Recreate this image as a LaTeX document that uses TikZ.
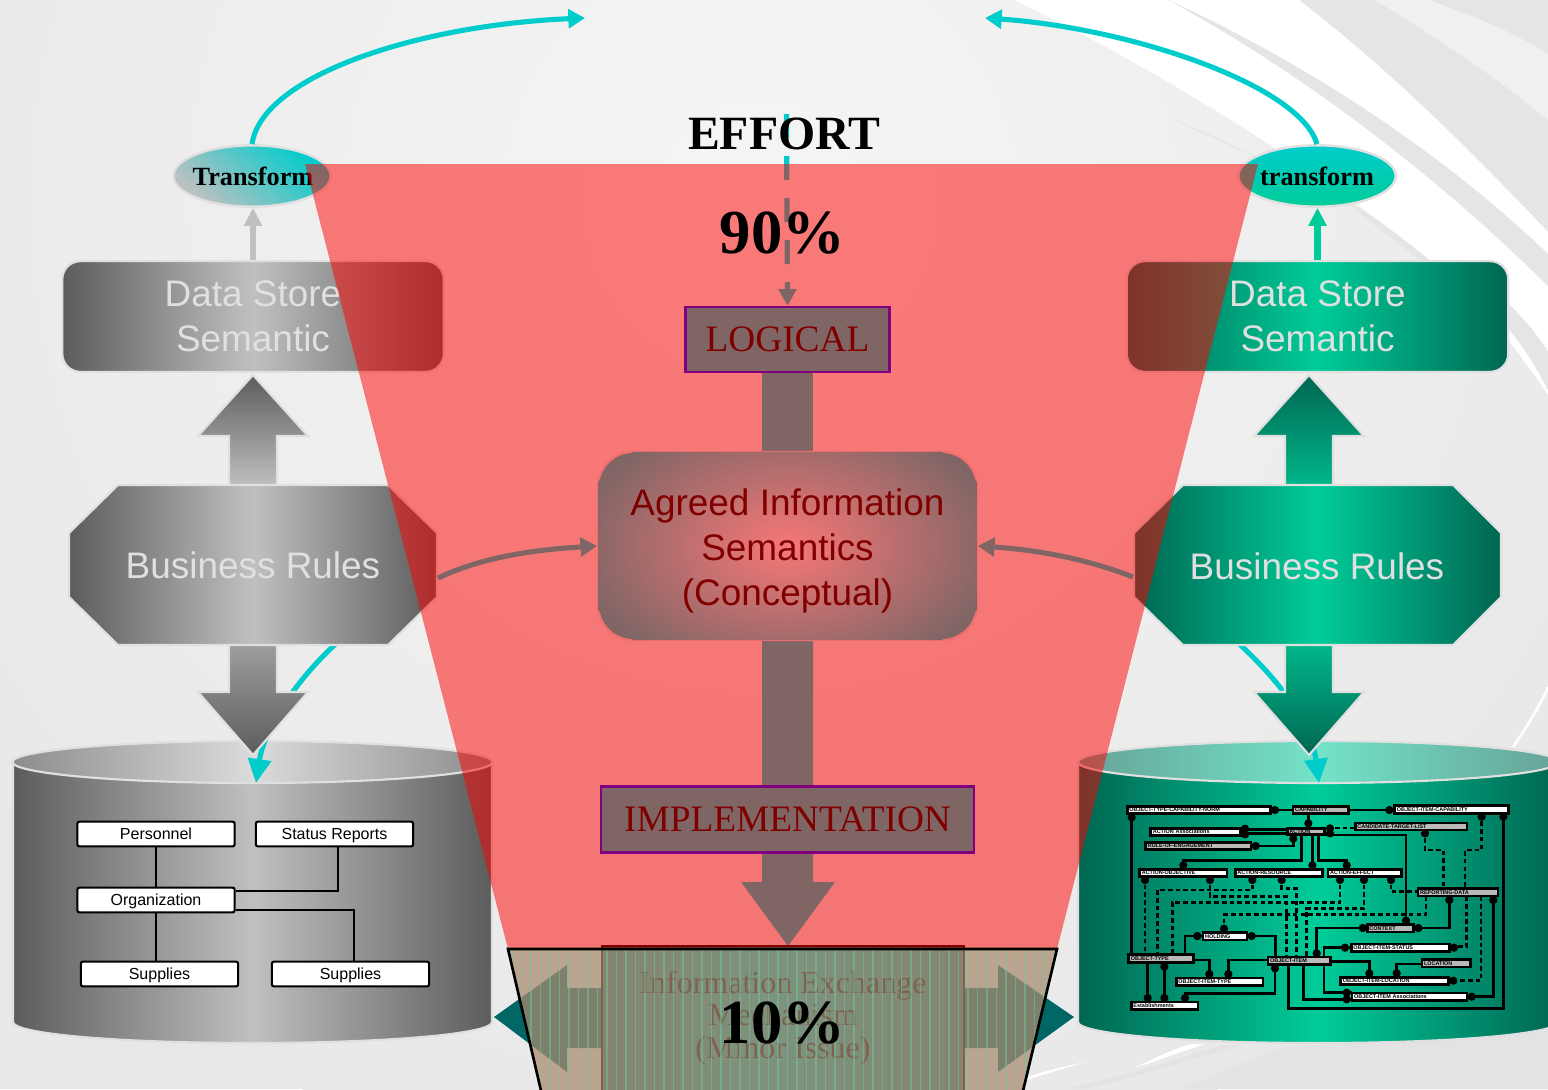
\documentclass[tikz,border=0pt]{standalone}
\usepackage{fontspec}
\setmainfont{Liberation Serif}
\newfontfamily\arial{Liberation Sans}
\usetikzlibrary{arrows.meta,shapes.geometric}
\definecolor{rim}{HTML}{E0E0E0}
\definecolor{gd}{HTML}{5C5C5C}
\definecolor{gm}{HTML}{C0C0C0}
\definecolor{td}{HTML}{006652}
\definecolor{tm}{HTML}{00CC99}
\definecolor{cy}{HTML}{00CCCC}
\definecolor{deep}{HTML}{006666}
\definecolor{agrlight}{HTML}{F0F0F0}
\tikzset{
  rimmed/.style={draw=rim,line width=1.6pt,line join=miter},
  gshade/.style={rimmed,left color=gd,right color=gd,middle color=gm},
  tshade/.style={rimmed,left color=td,right color=td,middle color=tm},
  bigtext/.style={font=\arial\fontsize{27.7}{33.75}\selectfont,align=center,inner sep=0pt},
  store/.style={rounded corners=13.5pt,minimum width=286pt,minimum height=83pt,bigtext,text=rim},
  cyarrow/.style={draw=cy,line width=3.8pt,-{Triangle[length=12.5pt,width=14pt]}},
  lowarrow/.style={draw=cy,line width=3.8pt,-{Triangle[length=18pt,width=17pt]}},
  smallarrow/.style={line width=4.6pt,-{Triangle[length=13.5pt,width=13pt]}},
  erl/.style={draw=black,line width=1.8pt},
  erd/.style={erl,dash pattern=on 3.5pt off 2.3pt},
  erw/.style={draw=black,line width=2pt,fill=white},
  erg/.style={draw=black,line width=2pt,fill=black!27},
  lbox/.style={draw=black,line width=1.6pt,fill=white,rounded corners=1.5pt,minimum width=118pt,minimum height=18.5pt,inner sep=0pt,text height=10pt,text depth=1.6pt,font=\arial\fontsize{12}{14}\selectfont},
  llink/.style={draw=black,line width=1.6pt},
  midbox/.style={draw=blue,line width=1.6pt,fill=cy,inner sep=0pt,font=\fontsize{28}{33}\selectfont},
  title/.style={font=\bfseries\fontsize{35.8}{40}\selectfont,inner sep=0pt},
  pct/.style={font=\bfseries\fontsize{47}{50}\selectfont,inner sep=0pt},
  ell/.style={shape=ellipse,draw=rim,line width=1.8pt,inner sep=0pt,minimum width=118pt,minimum height=46pt},
  elltext/.style={inner sep=0pt,font=\bfseries\fontsize{19.7}{22}\selectfont},
}
% phantom outline, so that connectors can be laid under the boxes
\newcommand\ernp[7]{%
  \pgfmathsetlengthmacro\erwd{(#4-#2-8)*.25pt}%
  \pgfmathsetlengthmacro\erht{(#5-#3-8)*.25pt}%
  \path ({(#2+#4)/2},{(#3+#5)/2}) node[inner sep=0pt,minimum width=\erwd,minimum height=\erht] (#1) {};}
\newcommand\ernr[7]{%
  \pgfmathsetlengthmacro\erwd{(#4-#2-8)*.25pt}%
  \pgfmathsetlengthmacro\erht{(#5-#3-8)*.25pt}%
  \node[#6,inner sep=0pt,text width=\erwd,minimum height=\erht,text height=3.1pt,text depth=.5pt,align=left,font=\arial\bfseries\fontsize{4.1}{5}\selectfont] (#1) at ({(#2+#4)/2},{(#3+#5)/2}) {\hspace*{1.6pt}#7};}
\newcommand\erlist{%
\ern{otcn}{78}{45}{515}{75}{erw}{OBJECT-TYPE-CAPABILITY-NORM}
\ern{cap}{575}{45}{750}{75}{erg}{CAPABILITY}
\ern{oicap}{880}{42}{1230}{74}{erw}{OBJECT-ITEM-CAPABILITY}
\ern{aas}{148}{112}{425}{140}{erw}{ACTION Associations}
\ern{act}{558}{112}{678}{138}{erg}{ACTION}
\ern{ctl}{762}{95}{1105}{124}{erg}{CANDIDATE-TARGET-LIST}
\ern{roe}{133}{153}{457}{183}{erg}{RULE-OF-ENGAGEMENT}
\ern{aob}{115}{234}{385}{264}{erw}{ACTION-OBJECTIVE}
\ern{are}{402}{234}{672}{264}{erw}{ACTION-RESOURCE}
\ern{aef}{680}{234}{908}{264}{erw}{ACTION-EFFECT}
\ern{rd}{950}{292}{1198}{322}{erg}{REPORTING-DATA}
\ern{ctx}{798}{400}{945}{430}{erg}{CONTEXT}
\ern{hold}{305}{424}{445}{454}{erw}{HOLDING}
\ern{ois}{750}{458}{1052}{488}{erw}{OBJECT-ITEM-STATUS}
\ern{ot}{82}{490}{285}{522}{erg}{OBJECT-TYPE}
\ern{oi}{500}{497}{695}{527}{erg}{OBJECT-ITEM}
\ern{loc}{962}{505}{1115}{535}{erg}{LOCATION}
\ern{oit}{225}{560}{493}{590}{erw}{OBJECT-ITEM-TYPE}
\ern{oil}{718}{558}{1050}{588}{erw}{OBJECT-ITEM-LOCATION}
\ern{oia}{752}{605}{1105}{635}{erw}{OBJECT-ITEM Associations}
\ern{est}{90}{632}{298}{662}{erw}{Establishments}
}
\newcommand\erdots[1]{\foreach \p in {#1} {\fill[black] \p circle[radius=3.1pt];}}
\begin{document}
\begin{tikzpicture}[x=.75pt,y=-.75pt]
\useasboundingbox (0,0) rectangle (1548,1089);
\clip (0,0) rectangle (1548,1089);
% background
\fill[black!9] (0,0) rectangle (1548,1089);
\shade[inner color=black!4,outer color=black!9] (760,200) circle[radius=1000];
\fill[black!10] (1280,0) -- (1548,0) -- (1548,250) -- cycle;
\fill[white] (1014,0) .. controls (1100,40) and (1300,150) .. (1458,283) .. controls (1490,315) and (1525,360) .. (1548,395) -- (1548,232) .. controls (1470,150) and (1390,70) .. (1299,0) -- cycle;
\fill[black!10] (1168,0) .. controls (1260,50) and (1400,140) .. (1548,286) -- (1548,254) .. controls (1440,150) and (1300,60) .. (1168,0) -- cycle;
\fill[black!6] (1375,0) .. controls (1440,40) and (1500,80) .. (1548,120) -- (1548,54) .. controls (1510,30) and (1470,15) .. (1429,0) -- cycle;
\fill[black!10] (1165,116) .. controls (1200,130) and (1240,148) .. (1266,161) .. controls (1240,150) and (1200,132) .. (1165,116) -- cycle;
\fill[black!10] (1345,200) .. controls (1380,220) and (1420,250) .. (1460,290) -- (1440,278) .. controls (1405,245) and (1370,225) .. (1345,200) -- cycle;
\fill[black!10] (1508,303) .. controls (1525,320) and (1540,338) .. (1548,352) -- (1548,390) .. controls (1535,365) and (1520,340) .. (1500,320) -- cycle;
\fill[black!11] (1286,1047) .. controls (1250,1060) and (1215,1075) .. (1182,1089) -- (1548,1089) -- (1548,1030) -- cycle;
\fill[black!11] (1222,1045) .. controls (1170,1062) and (1115,1078) .. (1064,1089) -- (1085,1089) .. controls (1130,1078) and (1185,1062) .. (1240,1045) -- cycle;
\fill[white] (1205,1044) .. controls (1180,1052) and (1155,1062) .. (1134,1068) .. controls (1155,1058) and (1175,1048) .. (1192,1044) -- cycle;
\fill[white] (1086,1062) .. controls (1065,1068) and (1045,1074) .. (1027,1080) -- (1027,1077) .. controls (1045,1071) and (1065,1066) .. (1086,1062) -- cycle;
\draw[white,line width=2pt] (1513,747) .. controls (1528,725) and (1542,702) .. (1548,687);

% left cylinder
\path[gshade] (13,762) -- (13,1022) .. controls (13,1034) and (120,1043) .. (252,1043) .. controls (385,1043) and (492,1034) .. (492,1022) -- (492,762) -- cycle;
\path[rimmed,left color=black!45,right color=black!45,middle color=black!14] (252.5,762) ellipse [x radius=240,y radius=21];
% right cylinder
\path[tshade] (1078,762) -- (1078,1022) .. controls (1078,1034) and (1185,1043) .. (1318,1043) .. controls (1450,1043) and (1558,1034) .. (1558,1022) -- (1558,762) -- cycle;
\path[rimmed,left color=td!60!white,right color=td!60!white,middle color=tm!55!white] (1318,762) ellipse [x radius=240,y radius=21];

% left cylinder contents
\node[lbox] (pers) at (156,834) {Personnel};
\node[lbox] (stat) at (334.5,834) {Status Reports};
\node[lbox] (org) at (156,900) {Organization};
\node[lbox] (sup1) at (159.5,974) {Supplies};
\node[lbox] (sup2) at (350.5,974) {Supplies};
\draw[llink] (pers) -- (org);
\draw[llink] (org) -- (org.south |- sup1.north);
\draw[llink] (stat.south -| 338,0) |- (org.east |- 0,891);
\draw[llink] (org.east |- 0,910) -| (sup2.north -| 354,0);

% right cylinder ER diagram
\begin{scope}[shift={(1100,790)},x=.25pt,y=-.25pt]
\let\ern\ernp
\erlist
\draw[erl] (otcn.east |- 0,60) -- (cap.west |- 0,60);
\draw[erl] (cap.east |- 0,60) -- (oicap.west |- 0,60);
\draw[erl] (cap.south -| 625,0) -- (act.north -| 625,0);
\draw[erl] (otcn.south -| 95,0) -- (ot.north -| 95,0);
\draw[erl] (oicap.south -| 1210,0) |- (565,655) -- (oi.south -| 565,0);
\draw[erd] (oicap.south -| 1145,0) |- (1095,180) -- (rd.north -| 1095,0);
\draw[erd] (ctl.south -| 975,0) |- (1030,180) -- (rd.north -| 1030,0);
\draw[erd] (ctl.west |- 0,114) -- (act.east |- 0,114);
\draw[erl] (aas.east |- 0,118) -- (act.west |- 0,118);
\draw[erl] (aas.east |- 0,131) -- (act.west |- 0,131);
\draw[erl] (roe.east |- 0,168) -| (act.south -| 580,0);
\draw[erl] (act.south -| 605,0) |- (250,212) -- (aob.north -| 250,0);
\draw[erl] (act.south -| 637,0) -- (are.north -| 637,0);
\draw[erl] (act.south -| 655,0) |- (740,212) -- (aef.north -| 740,0);
\draw[erl] (act.east |- 0,135) -| (ctx.north -| 918,0);
\draw[erd] (aob.south -| 135,0) -- (ot.north -| 135,0);
\draw[erd] (aob.south -| 330,0) |- (560,320) -- (oi.north -| 560,0);
\draw[erd] (are.south -| 457,0) |- (172,300) -- (ot.north -| 172,0);
\draw[erd] (are.south -| 545,0) |- (590,295) -- (oi.north -| 590,0);
\draw[erd] (aef.south -| 720,0) |- (217,338) -- (ot.north -| 217,0);
\draw[erd] (aef.south -| 792,0) |- (620,356) -- (oi.north -| 620,0);
\draw[erd] (aef.south -| 873,0) |- (rd.west |- 0,305);
\draw[erd] (rd.south -| 978,0) |- (372,374) -- (hold.north -| 372,0);
\draw[erl] (rd.south -| 1048,0) |- (ctx.east |- 0,414);
\draw[erd] (rd.south -| 1100,0) |- (ois.east |- 0,470);
\draw[erd] (rd.south -| 1143,0) |- (oil.east |- 0,572);
\draw[erl] (rd.south -| 1180,0) |- (oia.east |- 0,620);
\draw[erl] (ctx.west |- 0,414) -| (oi.north -| 650,0);
\draw[erl] (ois.west |- 0,473) -| (oi.north -| 672,0);
\draw[erl] (hold.west |- 0,438) -| (ot.north -| 255,0);
\draw[erl] (hold.east |- 0,438) -| (oi.north -| 527,0);
\draw[erl] (ot.east |- 0,510) -| (oit.north -| 328,0);
\draw[erl] (oi.west |- 0,510) -| (oit.north -| 385,0);
\draw[erl] (oi.east |- 0,515) -| (oil.north -| 808,0);
\draw[erl] (loc.west |- 0,522) -| (oil.north -| 890,0);
\draw[erl] (oi.south -| 672,0) |- (oia.west |- 0,608);
\draw[erl] (oi.south -| 610,0) |- (oia.west |- 0,628);
\draw[erl] (ot.south -| 143,0) -- (est.north -| 143,0);
\draw[erl] (ot.south -| 193,0) -- (est.north -| 193,0);
\draw[erl] (oi.south -| 525,0) |- (255,610) -- (est.north -| 255,0);
\erdots{(525,60),(868,60),(625,100),(95,82),(1210,80),(1145,80),(975,130),(690,115),(435,116),(435,133),(467,168),(580,146),(250,226),(637,226),(740,226),(690,130),(918,392),(135,270),(330,270),(457,270),(545,270),(720,270),(792,270),(873,270),(1048,330),(955,414),(1062,473),(1060,572),(1180,330),(1115,620),(788,414),(650,490),(735,473),(292,438),(455,438),(372,416),(328,552),(385,552),(808,550),(890,550),(740,608),(740,628),(143,624),(193,530),(193,624),(255,624),(525,535)}
\let\ern\ernr
\erlist
\end{scope}

% lower cyan curves into the cylinders
\coordinate (lowL) at (340,640); \coordinate (tipL) at (256,783);
\coordinate (lowR) at (1235,640); \coordinate (tipR) at (1319,783);
\draw[lowarrow] (lowL) .. controls (295,680) and (264,730) .. (tipL);
\draw[lowarrow] (lowR) .. controls (1290,690) and (1312,730) .. (tipR);

% fat arrows left
\path[rimmed,top color=gd,bottom color=gm] (253,375) -- (308,436) -- (277,436) -- (277,487) -- (229,487) -- (229,436) -- (198,436) -- cycle;
\path[rimmed,top color=black!38,bottom color=gd] (229,643) -- (277,643) -- (277,692) -- (308,692) -- (253,755) -- (198,692) -- (229,692) -- cycle;
% fat arrows right
\path[rimmed,top color=td,bottom color=tm!80!td] (1309,375) -- (1364,436) -- (1333,436) -- (1333,487) -- (1285,487) -- (1285,436) -- (1254,436) -- cycle;
\path[rimmed,top color=tm!80!td,bottom color=td] (1285,643) -- (1333,643) -- (1333,692) -- (1364,692) -- (1309,755) -- (1254,692) -- (1285,692) -- cycle;

% octagons
\path[gshade] (118,485) -- (388,485) -- (437,533) -- (437,597) -- (388,645) -- (118,645) -- (69,597) -- (69,533) -- cycle;
\path[tshade] (1183,485) -- (1453,485) -- (1501,533) -- (1501,597) -- (1453,645) -- (1183,645) -- (1134,597) -- (1134,533) -- cycle;
\node[bigtext,text=rim] (brL) at (253,565.5) {Business Rules};
\node[bigtext,text=rim] (brR) at (1317,566.5) {Business Rules};

% data stores
\node[store,gshade] (dsL) at (253,316.5) {Data Store\\Semantic};
\node[store,tshade] (dsR) at (1317.5,316.5) {Data Store\\Semantic};

% ellipses
\node[ell,top color=cy,bottom color=gm,shading angle=-40] (trL) at (252,176) {};
\node[ell,top color=cy,bottom color=tm] (trR) at (1317,176) {};
\node[elltext] (trLt) at (253,176) {Transform};
\node[elltext] (trRt) at (1317,176) {transform};

% small arrows
\draw[draw=gm,smallarrow] (dsL.north) -- (dsL.north |- trL.south);
\draw[draw=tm,smallarrow] (dsR.north) -- (dsR.north |- trR.south);

% upper cyan curves
\coordinate (topL) at (585,18); \coordinate (topR) at (985,18);
\draw[cyarrow] (trL.north) .. controls (262,75) and (420,25) .. (topL);
\draw[cyarrow] (trR.north) .. controls (1300,85) and (1130,28) .. (topR);

% centre column
\fill[cy] (762,373) rectangle (813,452);
\fill[cy] (762,640) -- (813,640) -- (813,882) -- (835,882) -- (788,946) -- (741,882) -- (762,882) -- cycle;
\node[midbox,minimum width=153pt,minimum height=49pt] (logi) at (787.5,339.5) {LOGICAL};
\node[midbox,minimum width=280pt,minimum height=49.5pt] (impl) at (787.5,819.5) {IMPLEMENTATION};
\node[draw=rim,line width=1.6pt,rounded corners=26pt,minimum width=284pt,minimum height=141pt,fill=cy,inner sep=0pt] (agr) at (787.5,546) {};
\begin{scope}
\clip[rounded corners=25pt] ([shift={(1,-1)}]agr.south west) rectangle ([shift={(-1,1)}]agr.north east);
\shade[inner color=agrlight,outer color=cy] (787.5,546) ellipse [x radius=215,y radius=135];
\end{scope}
\node[bigtext] (agrt) at (787.5,550.5) {Agreed Information\\Semantics\\(Conceptual)};
\coordinate (dashtop) at (786.5,114);
\draw[draw=cy,line width=3.9pt,dash pattern=on 18pt off 13.5pt,-{Triangle[length=12.5pt,width=13pt]}] (dashtop) -- (logi.north);

% side arrows
\coordinate (sideL) at (438,578); \coordinate (sideR) at (1133,577);
\draw[cyarrow] (sideL) .. controls (480,558) and (530,550) .. (agr.west);
\draw[cyarrow] (sideR) .. controls (1090,560) and (1040,550) .. (agr.east);

% bottom block
\fill[deep] (494,1017) -- (567,965) -- (567,988) -- (610,988) -- (610,1048) -- (567,1048) -- (567,1072) -- cycle;
\fill[deep] (1074,1017) -- (998,965) -- (998,988) -- (960,988) -- (960,1048) -- (998,1048) -- (998,1072) -- cycle;
\path[draw=black,line width=2.2pt,left color=deep!90,right color=deep!90,middle color=cy!85!black] (602,946) rectangle (964,1095);
\node[font=\fontsize{24}{24.4}\selectfont,align=center,inner sep=0pt] (info) at (783,1018) {Information Exchange\\Mechanism\\(Minor Issue)};

% red funnel
\fill[red,fill opacity=.5] (305,164) -- (1258,164) -- (1057,949) -- (508,949) -- cycle;
% tan lower funnel
\begin{scope}
\clip (508,949) -- (1057,949) -- (1022,1095) -- (542,1095) -- cycle;
\fill[fill={rgb,255:red,172;green,138;blue,110},fill opacity=.73] (500,949) rectangle (1060,1095);
\foreach \k in {0,...,58} {\draw[draw={rgb,255:red,115;green,200;blue,155},line width=.8pt,opacity=.5] ({512+9.5*\k},949) -- ({512+9.5*\k},1095);}
\end{scope}
\draw[black,line width=2pt] (542,1095) -- (508,949) -- (1057,949) -- (1022,1095);

% top labels
\node[title] (eff) at (784,134) {EFFORT};
\node[pct] (p90) at (782.5,233) {90\%};
\node[pct] (p10) at (782.5,1023) {10\%};
\end{tikzpicture}
\end{document}
